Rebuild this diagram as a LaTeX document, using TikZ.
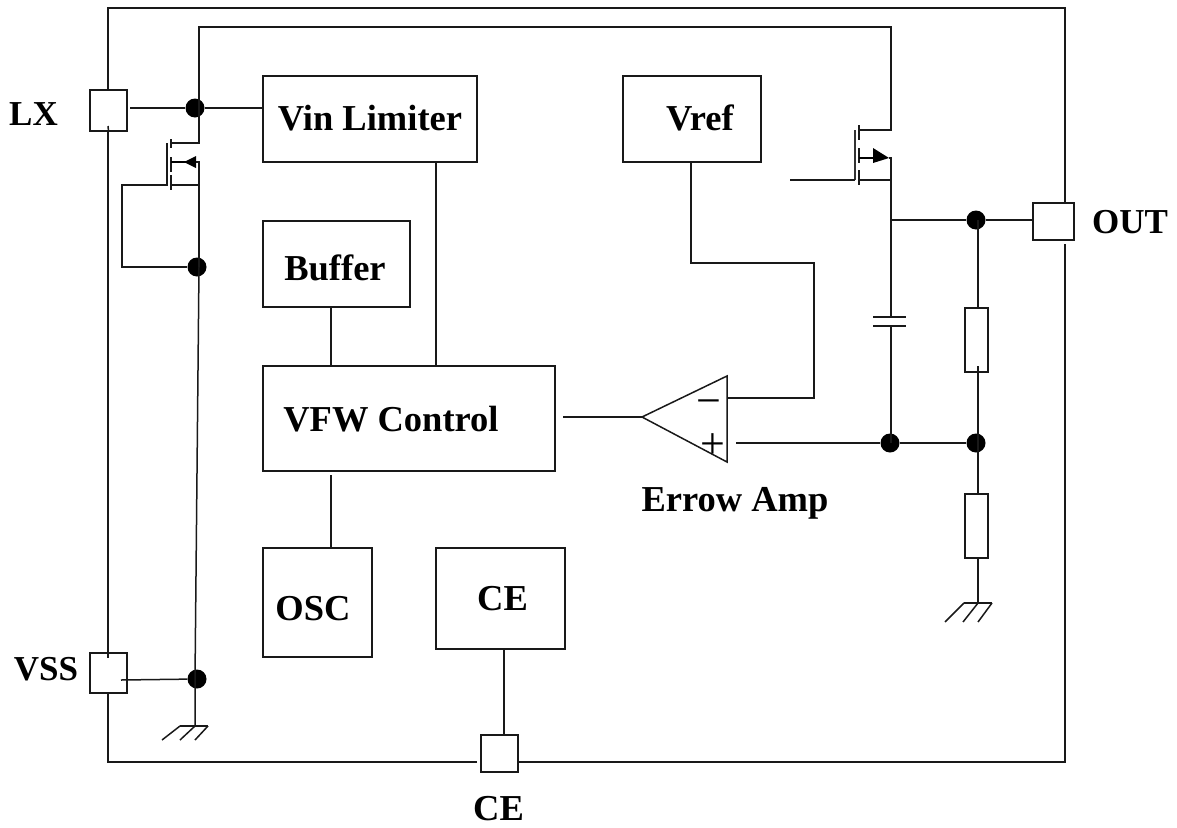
\documentclass[tikz,border=0pt]{standalone}
\usepackage{fontspec}
\setmainfont{Liberation Serif}
\usetikzlibrary{arrows.meta}
\tikzset{
  wire/.style={line width=1.5pt,black!90},
  blockbox/.style={draw=black!90,line width=1.5pt,fill=none,inner sep=0pt,outer sep=0pt,anchor=north west},
  pinbox/.style={draw=black!90,line width=1.5pt,fill=white,inner sep=0pt,outer sep=0pt,anchor=north west},
  lbl/.style={font=\fontsize{36.5}{40}\selectfont\bfseries,inner sep=0pt,text=black},
  pinlbl/.style={font=\fontsize{35}{40}\selectfont\bfseries,inner sep=0pt,text=black},
  dotn/.style={circle,fill=black,inner sep=0pt,minimum size=19pt},
  sym/.style={font=\fontsize{44}{46}\selectfont,inner sep=0pt,text=black},
}
\newcommand{\blk}[5]{\node[blockbox,minimum width=#4pt,minimum height=#5pt] (#1) at (#2,#3) {};}
\newcommand{\pinb}[5]{\node[pinbox,minimum width=#4pt,minimum height=#5pt] (#1) at (#2,#3) {};}
\begin{document}
\begin{tikzpicture}[x=1pt,y=-1pt]
\useasboundingbox (0,0) rectangle (1177,827);
% frame
\coordinate (fTL) at (108,8); \coordinate (fTR) at (1065,8);
\coordinate (fBL) at (108,762); \coordinate (fBR) at (1065,762);
\coordinate (fR2) at (1065,244); \coordinate (fB2) at (477,762);
\draw[wire] (fR2) -- (fBR) -- (518,762);
\draw[wire] (fB2) -- (fBL) -- (fTL) -- (fTR) -- (1065,203);
% pins
\pinb{pLX}{90}{90}{37}{41}
\pinb{pVSS}{90}{653}{37}{40}
\pinb{pOUT}{1033}{203}{41}{37}
\pinb{pCE}{481}{735}{37}{37}
\coordinate (a1) at (108,126); \coordinate (a2) at (108,653);\coordinate (a3) at (108,658);
\draw[wire] (pLX.south) -- (a1);
\draw[wire] (a2) -- (a3);
% blocks
\blk{vin}{263}{76}{214}{86}
\blk{vref}{623}{76}{138}{86}
\blk{buf}{263}{221}{147}{86}
\blk{vfw}{263}{366}{292}{105}
\blk{osc}{263}{548}{109}{109}
\blk{ceb}{436}{548}{129}{101}
\blk{r1}{965}{308}{23}{64}
\blk{r2}{965}{494}{23}{64}
% labels
\node[pinlbl] (tLX) at (33.5,114) {LX};
\node[pinlbl] (tVSS) at (46,669) {VSS};
\node[pinlbl] (tOUT) at (1130,222) {OUT};
\node[lbl] (tCE) at (498.5,809) {CE};
\node[lbl] (tvin) at (370,118) {Vin Limiter};
\node[lbl] (tvref) at (700,118) {Vref};
\node[lbl] (tbuf) at (335,268) {Buffer};
\node[lbl] (tvfw) at (391,419) {VFW Control};
\node[lbl] (tosc) at (313,609) {OSC};
\node[lbl] (tceb) at (502.5,599) {CE};
\node[lbl] (tamp) at (735,503) {Errow Amp};
% junctions
\node[dotn] (jLX) at (195,108) {};
\node[dotn] (jG) at (197,267) {};
\node[dotn] (jV) at (197,679) {};
\node[dotn] (jO) at (976,220) {};
\node[dotn] (jC) at (890,443) {};
\node[dotn] (jR) at (976,443) {};
% left side wiring
\coordinate (lxs) at (130,108);
\coordinate (top1) at (199,27); \coordinate (top2) at (891,27);
\coordinate (d1) at (199,143); \coordinate (d1t) at (171,143);
\draw[wire] (lxs) -- (jLX) -- (vin.west |- jLX);
\draw[wire] (d1t) -- (d1) -- (top1) -- (top2) -- (891,130) -- (859,130);
% left MOSFET
\coordinate (s1) at (199,162); \coordinate (s1t) at (171,162);
\coordinate (b1) at (199,185); \coordinate (b1t) at (171,185);
\coordinate (g1) at (167,185); \coordinate (g1b) at (167,143);
\coordinate (gw1) at (122,185); \coordinate (gw2) at (122,267);
\draw[wire] (171,139) -- (171,148);
\draw[wire] (171,157) -- (171,172);
\draw[wire] (171,175) -- (171,190);
\draw[wire] (g1b) -- (g1) -- (gw1) -- (gw2) -- (jG);
\draw[wire] (b1t) -- (b1);
\draw[line width=2pt] (s1t) -- (186,162);
\draw[wire] (195,162) -- (s1) -- (199,267);
\fill[black] (184,162) -- (196,156) -- (196,168) -- cycle;
\draw[wire] (199,267) -- (195,679) -- (195,726);
% VSS
\coordinate (vs) at (121,680);
\draw[wire] (vs) -- (jV);
% ground left
\coordinate (gA) at (180,726); \coordinate (gB) at (208,726);
\draw[wire] (gA) -- (gB);
\draw[wire] (gA) -- (162,740);
\draw[wire] (195,726) -- (180,740);
\draw[wire] (gB) -- (195,740);
% block wiring
\draw[wire] (buf.south -| 331,0) -- (vfw.north -| 331,0);
\draw[wire] (vin.south -| 436,0) -- (vfw.north -| 436,0);
\draw[wire] (331,475) -- (osc.north -| 331,0);
\draw[wire] (ceb.south -| 504,0) -- (pCE.north -| 504,0);
% amp
\coordinate (ap) at (642,417); \coordinate (at) at (727,376); \coordinate (ab) at (727,462);
\draw[wire,line join=miter] (ap) -- (at) -- (ab) -- cycle;
\coordinate (outw) at (563,417);
\draw[wire] (outw) -- (ap);
\node[sym] (minus) at (709,408) {−};
\node[sym] (plus) at (713,446) {+};
\coordinate (mi) at (727,398); \coordinate (m2) at (814,398); \coordinate (m3) at (814,263); \coordinate (m4) at (691,263);
\draw[wire] (mi) -- (m2) -- (m3) -- (m4) -- (vref.south -| m4);
\coordinate (pi) at (736,443);
\draw[wire] (pi) -- (jC) -- (jR);
% right MOSFET
\draw[wire] (859,125) -- (859,140);
\draw[wire] (859,148) -- (859,163);
\draw[wire] (859,170) -- (859,185);
\draw[line width=2pt,black!80] (855,130) -- (855,180);
\coordinate (gi) at (790,180);
\draw[wire] (gi) -- (855,180);
\draw[wire] (859,180) -- (891,180);
\draw[line width=2pt] (859,158) -- (875,158);
\fill[black] (889,158) -- (873,148) -- (873,163) -- cycle;
\draw[wire] (889,158) -- (891,158) -- (891,317);
\coordinate (cp1l) at (873,317); \coordinate (cp1r) at (906,317);
\coordinate (cp2l) at (873,326); \coordinate (cp2r) at (906,326);
\draw[wire] (cp1l) -- (cp1r);
\draw[wire] (cp2l) -- (cp2r);
\draw[wire] (891,326) -- (891,443);
\draw[wire] (891,220) -- (jO) -- (pOUT.west |- jO);
% divider
\draw[wire] (978,220) -- (r1.north -| 978,0);
\draw[wire] (978,366) -- (978,494);
\draw[wire] (978,558) -- (978,603);
\coordinate (gC) at (964,603); \coordinate (gD) at (992,603);
\draw[wire] (gC) -- (gD);
\draw[wire] (gC) -- (945,622);
\draw[wire] (978,603) -- (963,622);
\draw[wire] (gD) -- (978,622);
\end{tikzpicture}
\end{document}
